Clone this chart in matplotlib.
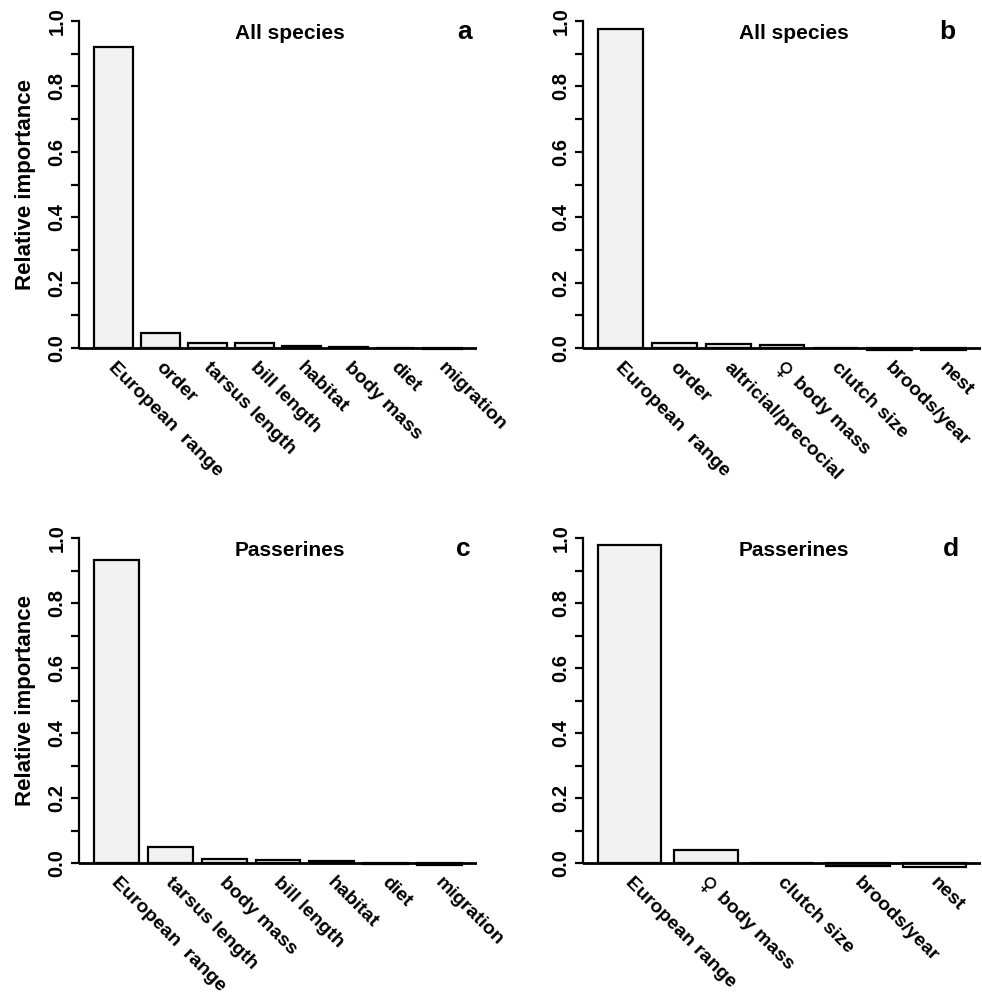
import math
import matplotlib
matplotlib.use("Agg")
import matplotlib.pyplot as plt

plt.rcParams['font.family'] = ['Liberation Sans', 'DejaVu Sans']
plt.rcParams['font.weight'] = 'bold'

labels_a = ["European  range", "order", "tarsus length", "bill length", "habitat",
            "body mass", "diet", "migration"]
values_a = [0.920, 0.047, 0.015, 0.015, 0.006, 0.002, 0.001, -0.004]

labels_b = ["European  range", "order", "altricial/precocial", "\u2640 body mass",
            "clutch size", "broods/year", "nest"]
values_b = [0.976, 0.016, 0.013, 0.010, 0.001, -0.006, -0.007]

labels_c = ["European  range", "tarsus length", "body mass", "bill length", "habitat",
            "diet", "migration"]
values_c = [0.932, 0.048, 0.013, 0.010, 0.005, -0.004, -0.005]

labels_d = ["European range", "\u2640 body mass", "clutch size", "broods/year", "nest"]
values_d = [0.978, 0.040, 0.001, -0.009, -0.011]

titles = ["All species", "All species", "Passerines", "Passerines"]
letters = ["a", "b", "c", "d"]
letter_x = [0.97, 0.915, 0.965, 0.925]
ytick_vals = [i / 10 for i in range(11)]
ytick_labels = ["0.0", "", "0.2", "", "0.4", "", "0.6", "", "0.8", "", "1.0"]

fig = plt.figure(figsize=(9.82, 10.0), dpi=100)
W, H = 982, 1000
ax_px = [(79, 8, 398, 353), (583, 8, 398, 353), (79, 525, 398, 351), (583, 525, 398, 351)]
panels = [(labels_a, values_a), (labels_b, values_b), (labels_c, values_c), (labels_d, values_d)]

LFS = 14
dx0, dy0 = 3, -8
c45 = math.cos(math.radians(45))

for k, ((labs, vals), (x0, y0, w, h)) in enumerate(zip(panels, ax_px)):
    ax = fig.add_axes([x0 / W, 1 - (y0 + h) / H, w / W, h / H])
    n = len(vals)
    centers = [0.7 + 1.2 * i for i in range(n)]
    ax.bar(centers, vals, width=1.0, color="#f1f2f1", edgecolor="black",
           linewidth=1.6, zorder=2)
    r = 1.2 * n - 0.2
    ax.set_xlim(0.2 - 0.04 * r, 1.2 * n + 0.04 * r)
    ax.set_ylim(-0.04, 1.04)
    ax.axhline(0, color="black", linewidth=2.0, zorder=3)
    for s in ["top", "right", "bottom"]:
        ax.spines[s].set_visible(False)
    ax.spines["left"].set_bounds(0, 1)
    ax.spines["left"].set_linewidth(1.6)
    ax.set_xticks([])
    ax.set_yticks(ytick_vals)
    ax.set_yticklabels(ytick_labels, rotation=90, va="center", fontsize=14.5,
                       fontweight="bold")
    ax.tick_params(axis="y", length=6, width=1.6, pad=3)
    if k % 2 == 0:
        ax.set_ylabel("Relative importance", fontsize=16, fontweight="bold", labelpad=8)
    for c, lab in zip(centers, labs):
        if lab.startswith("\u2640"):
            ax.annotate("\u2640", xy=(c, 0), xycoords="data", xytext=(dx0 - 1, dy0 + 1),
                        textcoords="offset points", rotation=-45, ha="left", va="top",
                        rotation_mode="anchor", fontsize=LFS + 1, fontweight="bold",
                        family="DejaVu Sans", annotation_clip=False)
            rest = lab[1:].strip()
            d = 15
            ax.annotate(rest, xy=(c, 0), xycoords="data",
                        xytext=(dx0 + d * c45, dy0 - d * c45),
                        textcoords="offset points", rotation=-45, ha="left", va="top",
                        rotation_mode="anchor", fontsize=LFS, fontweight="bold",
                        annotation_clip=False)
        else:
            ax.annotate(lab, xy=(c, 0), xycoords="data", xytext=(dx0, dy0),
                        textcoords="offset points", rotation=-45, ha="left", va="top",
                        rotation_mode="anchor", fontsize=LFS, fontweight="bold",
                        annotation_clip=False)
    ax.text(0.53, 0.913, titles[k], transform=ax.transAxes, ha="center",
            va="baseline", fontsize=15, fontweight="bold")
    ax.text(letter_x[k], 0.913, letters[k], transform=ax.transAxes, ha="center",
            va="baseline", fontsize=19, fontweight="bold")

fig.savefig("out.png", dpi=100)
